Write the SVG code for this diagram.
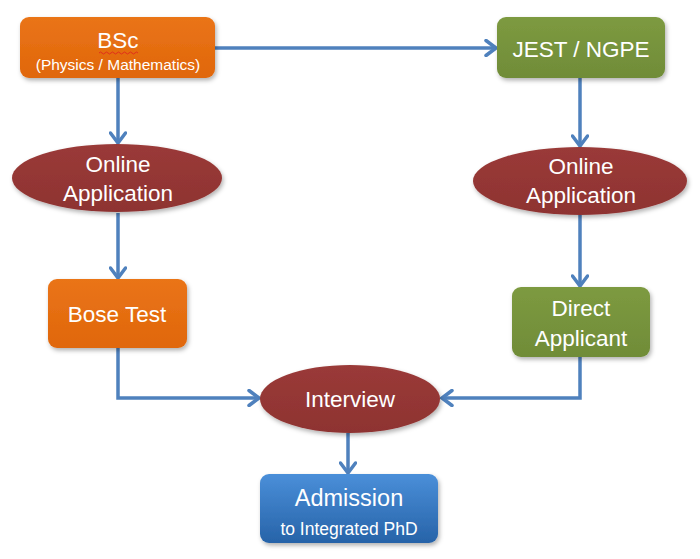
<svg xmlns="http://www.w3.org/2000/svg" width="700" height="559" viewBox="0 0 700 559">
<style>
text{font-family:"Liberation Sans","Noto Sans",Arial,sans-serif;fill:#ffffff;text-anchor:middle}
.t{font-size:22.5px}
.s{font-size:15.5px}
.c{fill:none;stroke:#4F81BD;stroke-width:3.5;stroke-linejoin:miter}
</style>
<defs>
<linearGradient id="gO" x1="0" y1="0" x2="0" y2="1"><stop offset="0" stop-color="#EA7418"/><stop offset="1" stop-color="#E0670A"/></linearGradient>
<linearGradient id="gG" x1="0" y1="0" x2="0" y2="1"><stop offset="0" stop-color="#7D9A40"/><stop offset="1" stop-color="#708C38"/></linearGradient>
<linearGradient id="gR" x1="0" y1="0" x2="0" y2="1"><stop offset="0" stop-color="#9A3A38"/><stop offset="1" stop-color="#8E3331"/></linearGradient>
<linearGradient id="gB" x1="0" y1="0" x2="0" y2="1"><stop offset="0" stop-color="#4A8FD9"/><stop offset="1" stop-color="#2763A8"/></linearGradient>
<filter id="sh" x="-10%" y="-10%" width="125%" height="135%"><feDropShadow dx="1.5" dy="2.5" stdDeviation="2" flood-color="#000" flood-opacity="0.3"/></filter>
<marker id="ah" markerUnits="userSpaceOnUse" markerWidth="14" markerHeight="18" viewBox="0 0 14 18" refX="12" refY="9" orient="auto">
<path d="M2,1.5 L12,9 L2,16.5" fill="none" stroke="#4F81BD" stroke-width="3.5" stroke-linecap="round"/>
</marker>
</defs>
<g id="connectors">
<path class="c" d="M215,48 H496" marker-end="url(#ah)"/>
<path class="c" d="M118,78 V143" marker-end="url(#ah)"/>
<path class="c" d="M580,78 V146" marker-end="url(#ah)"/>
<path class="c" d="M118,213 V278" marker-end="url(#ah)"/>
<path class="c" d="M580,215 V286" marker-end="url(#ah)"/>
<path class="c" d="M118,348 V398 H259" marker-end="url(#ah)"/>
<path class="c" d="M580,357 V398 H442" marker-end="url(#ah)"/>
<path class="c" d="M348,433 V473" marker-end="url(#ah)"/>
</g>
<g id="bsc">
<rect x="20" y="17" width="195" height="61" rx="9" fill="url(#gO)" filter="url(#sh)"/>
<text class="t" x="118" y="48">BSc</text>
<path d="M99,53 q1.5,-2 3,0 t3,0 t3,0 t3,0 t3,0 t3,0 t3,0 t3,0 t3,0 t3,0 t3,0 t3,0 t3,0" fill="none" stroke="#E02020" stroke-width="0.8"/>
<text class="s" x="118" y="70">(Physics / Mathematics)</text>
</g>
<g id="jest">
<rect x="497" y="17" width="168" height="61" rx="9" fill="url(#gG)" filter="url(#sh)"/>
<text class="t" x="581" y="57">JEST / NGPE</text>
</g>
<g id="online-left">
<ellipse cx="117" cy="178" rx="105" ry="34" fill="url(#gR)" filter="url(#sh)"/>
<text class="t" x="118" y="172">Online</text>
<text class="t" x="118" y="201">Application</text>
</g>
<g id="online-right">
<ellipse cx="580" cy="181" rx="107" ry="34" fill="url(#gR)" filter="url(#sh)"/>
<text class="t" x="581" y="174">Online</text>
<text class="t" x="581" y="203">Application</text>
</g>
<g id="bose">
<rect x="48" y="279" width="139" height="69" rx="9" fill="url(#gO)" filter="url(#sh)"/>
<text class="t" x="117" y="322">Bose Test</text>
</g>
<g id="direct">
<rect x="512" y="287" width="138" height="70" rx="9" fill="url(#gG)" filter="url(#sh)"/>
<text class="t" x="581" y="316">Direct</text>
<text class="t" x="581" y="346">Applicant</text>
</g>
<g id="interview">
<ellipse cx="350" cy="399" rx="90" ry="34" fill="url(#gR)" filter="url(#sh)"/>
<text class="t" x="350" y="407">Interview</text>
</g>
<g id="admission">
<rect x="260" y="474" width="178" height="69" rx="9" fill="url(#gB)" filter="url(#sh)"/>
<text x="349" y="506" style="font-size:23.5px">Admission</text>
<text x="349" y="535" style="font-size:17.5px">to Integrated PhD</text>
</g>
</svg>
